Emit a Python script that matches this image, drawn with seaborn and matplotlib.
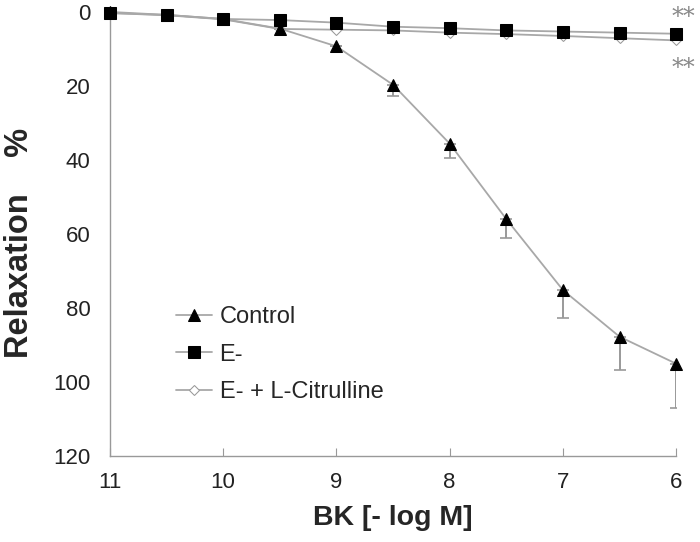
import seaborn as sns
import matplotlib.pyplot as plt
import pandas as pd

# -log M concentrations of BK
conc = [11, 10.5, 10, 9.5, 9, 8.5, 8, 7.5, 7, 6.5, 6]

control = [0, 0.8, 1.9, 4.5, 9.3, 19.7, 35.6, 56.0, 75.2, 87.8, 95.1]
control_err = [0, 0, 0, 0, 0, 3.0, 3.8, 5.2, 7.5, 9.0, 12.0]
e_minus = [0.3, 0.8, 1.9, 2.2, 2.9, 4.0, 4.4, 5.0, 5.3, 5.6, 5.9]
e_cit = [0.3, 0.9, 2.0, 4.6, 4.8, 5.0, 5.6, 6.0, 6.5, 7.1, 7.7]

if __name__ == '__main__':
    sns.set_style('white')
    plt.rcParams['font.family'] = ['Liberation Sans', 'DejaVu Sans']

    df = pd.DataFrame({'conc': conc, 'Control': control, 'E-': e_minus,
                       'E- + L-Citrulline': e_cit})

    fig = plt.figure(figsize=(7, 5.42), dpi=100)
    ax = fig.add_axes([0.157, 0.159, 0.809, 0.819])

    line_col = '#a8a8a8'
    # error bars (upper side only)
    ax.errorbar(conc, control, yerr=[[0] * len(conc), control_err], fmt='none',
                ecolor='#999999', elinewidth=1.4, capsize=4, capthick=1.2, zorder=2)

    sns.lineplot(data=df, x='conc', y='Control', ax=ax, color=line_col, lw=1.3,
                 marker='^', markersize=8, markerfacecolor='black',
                 markeredgecolor='black', label='Control', clip_on=False, zorder=4)
    sns.lineplot(data=df, x='conc', y='E-', ax=ax, color=line_col, lw=1.3,
                 marker='s', markersize=8, markerfacecolor='black',
                 markeredgecolor='black', label='E-', clip_on=False, zorder=5)
    sns.lineplot(data=df, x='conc', y='E- + L-Citrulline', ax=ax, color=line_col, lw=1.3,
                 marker='D', markersize=5, markerfacecolor='white',
                 markeredgecolor='#999999', label='E- + L-Citrulline',
                 clip_on=False, zorder=3)

    ax.set_xlim(11, 6)
    ax.set_ylim(120, 0)
    ax.set_xticks([11, 10, 9, 8, 7, 6])
    ax.set_yticks([0, 20, 40, 60, 80, 100, 120])

    for s in ['top', 'right']:
        ax.spines[s].set_visible(False)
    for s in ['left', 'bottom']:
        ax.spines[s].set_color('#999999')
        ax.spines[s].set_linewidth(1.0)

    ax.tick_params(axis='x', direction='in', length=6, color='#999999',
                   labelsize=16, labelcolor='#222222', pad=12, bottom=True)
    ax.tick_params(axis='y', length=0, labelsize=16, labelcolor='#222222', pad=14)

    ax.set_xlabel('BK [- log M]', fontsize=20.5, fontweight='bold', labelpad=8)
    ax.set_ylabel('Relaxation    %', fontsize=23.5, fontweight='bold')
    ax.yaxis.set_label_coords(-0.133, 0.48)

    ax.legend(loc='upper left', bbox_to_anchor=(0.079, 0.385), frameon=False,
              fontsize=17, handlelength=1.55, labelspacing=0.65, handletextpad=0.3)

    # significance marks at the right edge
    fig.text(683 / 700, 1 - 24 / 542, '**', fontsize=17, color='#888888',
             ha='center', va='baseline', family='DejaVu Serif')
    fig.text(683 / 700, 1 - 75 / 542, '**', fontsize=17, color='#888888',
             ha='center', va='baseline', family='DejaVu Serif')

    fig.savefig('out.png', dpi=100)
